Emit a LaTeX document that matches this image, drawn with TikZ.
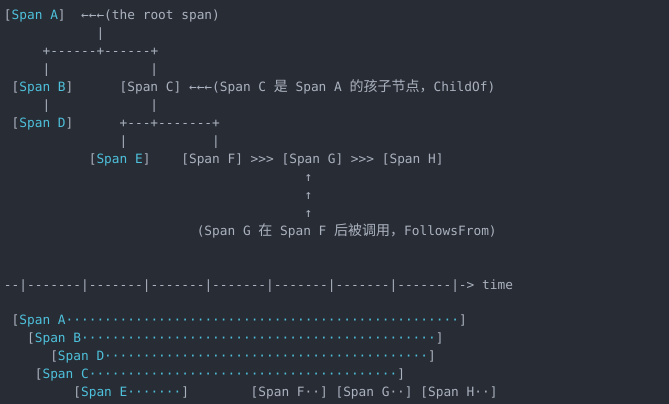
\documentclass[tikz,border=0pt]{standalone}
\usepackage{fontspec}
\setmonofont{DejaVu Sans Mono}
\newfontfamily\cjkfont{Noto Sans CJK SC}
\definecolor{bgc}{HTML}{282C34}
\definecolor{fgc}{HTML}{ABB2BF}
\definecolor{cync}{HTML}{4EC1DC}
\newcommand\cy[1]{\textcolor{cync}{#1}}
\newcommand\cj[1]{{\cjkfont\fontsize{14}{14}\selectfont #1}}
\ExplSyntaxOn
\cs_new:Npn \spandots #1 {\prg_replicate:nn{#1}{·}}
\ExplSyntaxOff
\def\cw{7.71}
\def\lh{17.97}
\begin{document}
\begin{tikzpicture}[x=1pt,y=1pt,
  code/.style={anchor=base west, inner sep=0pt, outer sep=0pt, text=fgc,
    font=\ttfamily\fontsize{12.81}{18}\selectfont}]
\useasboundingbox (0,0) rectangle (669,-404);
\fill[bgc] (0,0) rectangle (669,-404);
% tree
\node[code] (a0) at ({4+\cw*0},{-(19.47+\lh*0)}) {[\cy{Span A}]};
\node[code] (a0n) at ({4+\cw*10},{-(19.47+\lh*0)}) {←←←(the root span)};
\node[code] (l1) at ({4+\cw*12},{-(19.47+\lh*1)}) {|};
\node[code] (l2) at ({4+\cw*5},{-(19.47+\lh*2)}) {+------+------+};
\node[code] (l3a) at ({4+\cw*5},{-(19.47+\lh*3)}) {|};
\node[code] (l3b) at ({4+\cw*19},{-(19.47+\lh*3)}) {|};
\node[code] (b4) at ({4+\cw*1},{-(19.47+\lh*4)}) {[\cy{Span B}]};
\node[code] (c4) at ({4+\cw*15},{-(19.47+\lh*4)}) {[Span C] ←←←(Span C \cj{是} Span A \cj{的孩子节点，}ChildOf)};
\node[code] (l5a) at ({4+\cw*5},{-(19.47+\lh*5)}) {|};
\node[code] (l5b) at ({4+\cw*19},{-(19.47+\lh*5)}) {|};
\node[code] (d6) at ({4+\cw*1},{-(19.47+\lh*6)}) {[\cy{Span D}]};
\node[code] (l6) at ({4+\cw*15},{-(19.47+\lh*6)}) {+---+-------+};
\node[code] (l7a) at ({4+\cw*15},{-(19.47+\lh*7)}) {|};
\node[code] (l7b) at ({4+\cw*27},{-(19.47+\lh*7)}) {|};
\node[code] (e8) at ({4+\cw*11},{-(19.47+\lh*8)}) {[\cy{Span E}]};
\node[code] (f8) at ({4+\cw*23},{-(19.47+\lh*8)}) {[Span F] >>> [Span G] >>> [Span H]};
\node[code] (u9) at ({4+\cw*39},{-(19.47+\lh*9)}) {↑};
\node[code] (u10) at ({4+\cw*39},{-(19.47+\lh*10)}) {↑};
\node[code] (u11) at ({4+\cw*39},{-(19.47+\lh*11)}) {↑};
\node[code] (g12) at ({4+\cw*25},{-(19.47+\lh*12)}) {(Span G \cj{在} Span F \cj{后被调用，}FollowsFrom)};
% timeline
\node[code] (t15) at ({4+\cw*0},{-(19.47+\lh*15)}) {--|-------|-------|-------|-------|-------|-------|-------|-> time};
\node[code] (sa) at ({4+\cw*1},{-(19.47+\lh*17)}) {[\cy{Span A\spandots{51}}]};
\node[code] (sb) at ({4+\cw*3},{-(19.47+\lh*18)}) {[\cy{Span B\spandots{46}}]};
\node[code] (sd) at ({4+\cw*6},{-(19.47+\lh*19)}) {[\cy{Span D\spandots{42}}]};
\node[code] (sc) at ({4+\cw*4},{-(19.47+\lh*20)}) {[\cy{Span C\spandots{40}}]};
\node[code] (se) at ({4+\cw*9},{-(19.47+\lh*21)}) {[\cy{Span E\spandots{7}}]};
\node[code] (sf) at ({4+\cw*32},{-(19.47+\lh*21)}) {[Span F··] [Span G··] [Span H··]};
\end{tikzpicture}
\end{document}
